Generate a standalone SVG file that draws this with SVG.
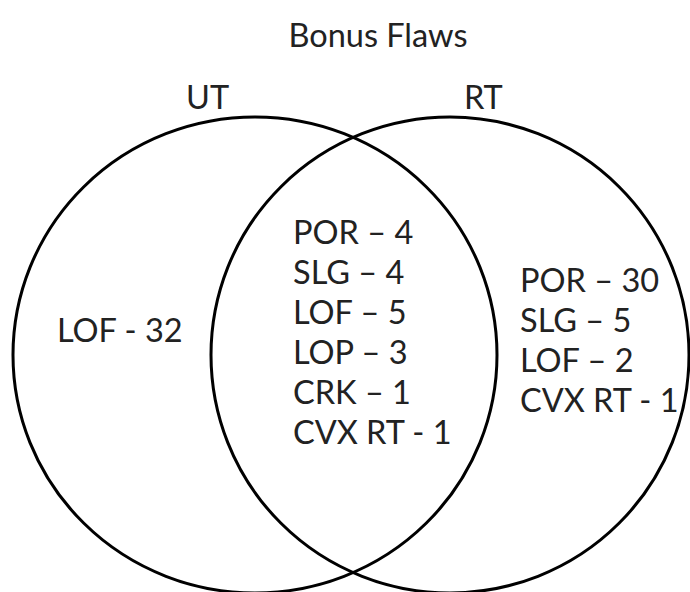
<svg xmlns="http://www.w3.org/2000/svg" width="690" height="592" viewBox="0 0 690 592">
<style>
text{font-family:Lato,"Open Sans",sans-serif;fill:#222;font-size:32.5px}
.c{fill:none;stroke:#000;stroke-width:3}
</style>
<rect width="690" height="592" fill="#fff"/>
<g id="title"><text x="378" y="47" text-anchor="middle" font-size="31">Bonus Flaws</text></g>
<g id="connectors"></g>
<g id="UT">
<ellipse class="c" cx="255" cy="355" rx="242" ry="238"/>
<text x="186" y="109">UT</text>
<text x="57" y="342">LOF - 32</text>
</g>
<g id="RT">
<ellipse class="c" cx="450" cy="355" rx="239" ry="238"/>
<text x="464" y="109">RT</text>
<text x="520" y="292">POR – 30</text>
<text x="520" y="332">SLG – 5</text>
<text x="520" y="372">LOF – 2</text>
<text x="520" y="412">CVX RT - 1</text>
</g>
<g id="both">
<text x="293" y="244">POR – 4</text>
<text x="293" y="284">SLG – 4</text>
<text x="293" y="324">LOF – 5</text>
<text x="293" y="364">LOP – 3</text>
<text x="293" y="404">CRK – 1</text>
<text x="293" y="444">CVX RT - 1</text>
</g>
</svg>
